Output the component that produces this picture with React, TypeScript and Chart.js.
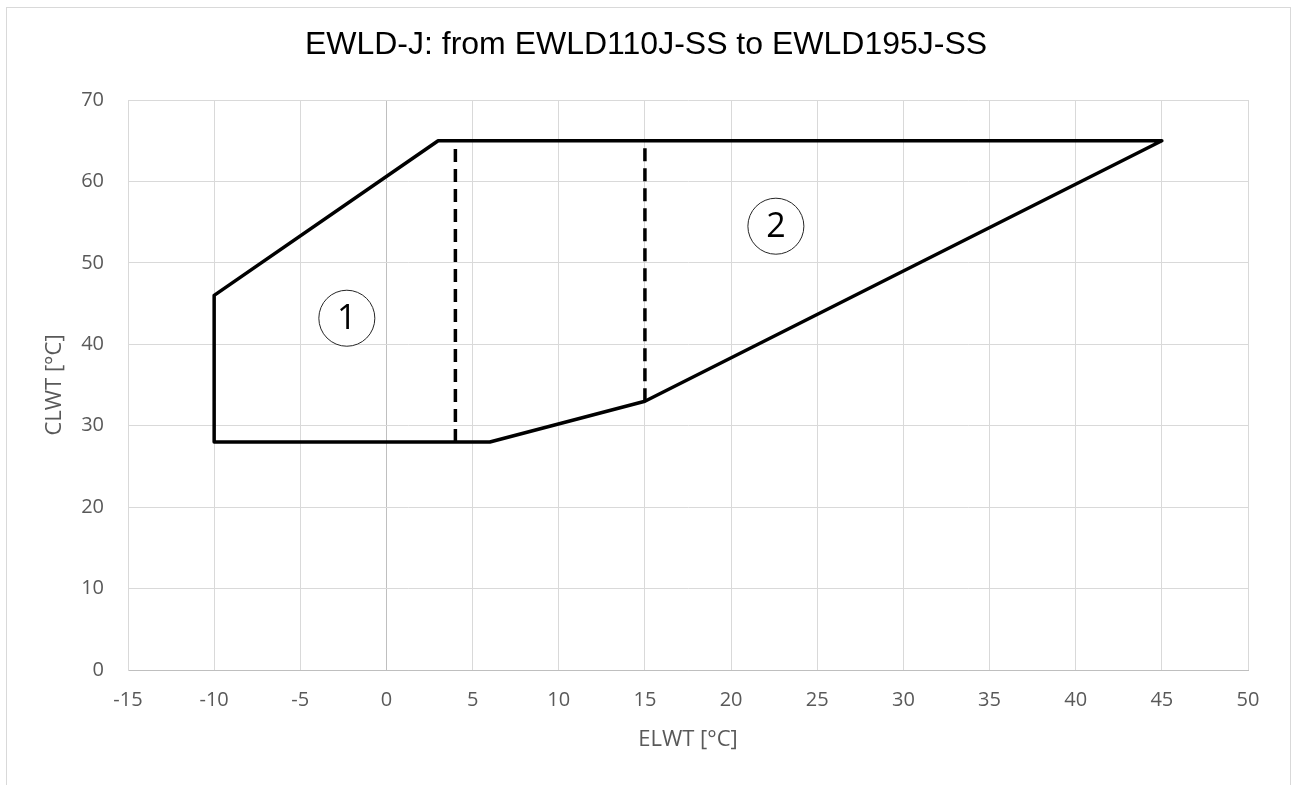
import React, { useEffect, useRef } from 'react';
import { Chart, registerables } from 'chart.js';

Chart.register(...registerables);

// ---- data ----
const chartTitle = 'EWLD-J: from EWLD110J-SS to EWLD195J-SS';
const xAxisTitle = 'ELWT [°C]';
const yAxisTitle = 'CLWT [°C]';

const outlineX = [-10, -10, 3, 45, 15, 6, -10];
const outlineY = [28, 46, 65, 65, 33, 28, 28];

const divider1X = [4, 4];
const divider1Y = [28, 65];

const divider2X = [15, 15];
const divider2Y = [33, 65];

const zoneLabels = ['1', '2'];
const zoneX = [-2.3, 22.6];
const zoneY = [43.2, 54.5];

const xMin = -15;
const xMax = 50;
const xStep = 5;
const yMin = 0;
const yMax = 70;
const yStep = 10;

const W = 1292;
const H = 785;

const toPoints = (xs: number[], ys: number[]) => xs.map((x, i) => ({ x, y: ys[i] }));

const framePlugin = {
  id: 'frame',
  beforeDraw(chart: any) {
    const ctx = chart.ctx;
    ctx.save();
    ctx.fillStyle = '#ffffff';
    ctx.fillRect(0, 0, chart.width, chart.height);
    ctx.strokeStyle = '#d9d9d9';
    ctx.lineWidth = 1;
    ctx.strokeRect(6.5, 7.5, 1284, 800);
    ctx.restore();
  },
  afterDraw(chart: any) {
    const ctx = chart.ctx;
    ctx.save();
    ctx.fillStyle = '#000000';
    ctx.font = '32px "Liberation Sans", Arial, sans-serif';
    ctx.textAlign = 'center';
    ctx.textBaseline = 'middle';
    ctx.fillText(chartTitle, chart.width / 2, 45);
    ctx.restore();
  },
};

const zoneLabelPlugin = {
  id: 'zoneLabels',
  afterDatasetsDraw(chart: any) {
    const idx = chart.data.datasets.findIndex((d: any) => d.label === 'zones');
    if (idx < 0) return;
    const meta = chart.getDatasetMeta(idx);
    const ctx = chart.ctx;
    ctx.save();
    ctx.fillStyle = '#000000';
    ctx.font = '34px "Open Sans"';
    ctx.textAlign = 'center';
    ctx.textBaseline = 'middle';
    meta.data.forEach((el: any, i: number) => {
      ctx.fillText(zoneLabels[i], el.x, el.y + 1);
    });
    ctx.restore();
  },
};

export default function App() {
  const ref = useRef<HTMLCanvasElement>(null);

  useEffect(() => {
    if (!ref.current) return;
    const gridColor = (c: any) => (c.tick && c.tick.value === 0 ? '#bfbfbf' : '#d9d9d9');
    const chart = new Chart(ref.current, {
      type: 'scatter',
      data: {
        datasets: [
          {
            label: 'outline',
            data: toPoints(outlineX, outlineY),
            showLine: true,
            borderColor: '#000000',
            borderWidth: 3.5,
            pointRadius: 0,
            tension: 0,
            borderJoinStyle: 'round',
            borderCapStyle: 'round',
            fill: false,
          } as any,
          {
            label: 'divider1',
            data: toPoints(divider1X, divider1Y),
            showLine: true,
            borderColor: '#000000',
            borderWidth: 3.5,
            borderDash: [13, 7],
            pointRadius: 0,
            fill: false,
          } as any,
          {
            label: 'divider2',
            data: toPoints(divider2X, divider2Y),
            showLine: true,
            borderColor: '#000000',
            borderWidth: 3.5,
            borderDash: [13, 7],
            pointRadius: 0,
            fill: false,
          } as any,
          {
            label: 'zones',
            data: toPoints(zoneX, zoneY),
            showLine: false,
            pointStyle: 'circle',
            pointRadius: 28,
            pointBorderWidth: 1,
            pointBorderColor: '#262626',
            pointBackgroundColor: '#ffffff',
          } as any,
        ],
      },
      options: {
        responsive: false,
        animation: false,
        events: [],
        layout: { padding: { left: 0, right: 44, top: 100, bottom: 0 } },
        plugins: {
          legend: { display: false },
          tooltip: { enabled: false },
          title: { display: false },
        },
        scales: {
          x: {
            type: 'linear',
            min: xMin,
            max: xMax,
            afterFit: (s: any) => {
              s.height = 115;
            },
            ticks: {
              stepSize: xStep,
              autoSkip: false,
              maxRotation: 0,
              padding: 18,
              color: '#595959',
              font: { family: '"Open Sans"', size: 20 },
            },
            grid: { color: gridColor, lineWidth: 1, drawTicks: false },
            border: { color: '#bfbfbf', width: 1 },
            title: {
              display: true,
              text: xAxisTitle,
              color: '#595959',
              font: { family: '"Open Sans"', size: 22 },
              padding: { top: 0, bottom: 31.8 },
            },
          },
          y: {
            type: 'linear',
            min: yMin,
            max: yMax,
            afterFit: (s: any) => {
              s.width = 128;
            },
            ticks: {
              stepSize: yStep,
              autoSkip: false,
              padding: 24,
              color: '#595959',
              font: { family: '"Open Sans"', size: 20 },
            },
            grid: { color: gridColor, lineWidth: 1, drawTicks: false },
            border: { color: '#d9d9d9', width: 1 },
            title: {
              display: true,
              text: yAxisTitle,
              color: '#595959',
              font: { family: '"Open Sans"', size: 22 },
              padding: { top: 42, bottom: 0 },
            },
          },
        },
      },
      plugins: [framePlugin, zoneLabelPlugin],
    } as any);
    return () => chart.destroy();
  }, []);

  return (
    <div style={{ position: 'fixed', left: 0, top: 0, width: W, height: H, background: '#ffffff' }}>
      <canvas ref={ref} width={W} height={H} style={{ display: 'block', width: W, height: H }} />
    </div>
  );
}
